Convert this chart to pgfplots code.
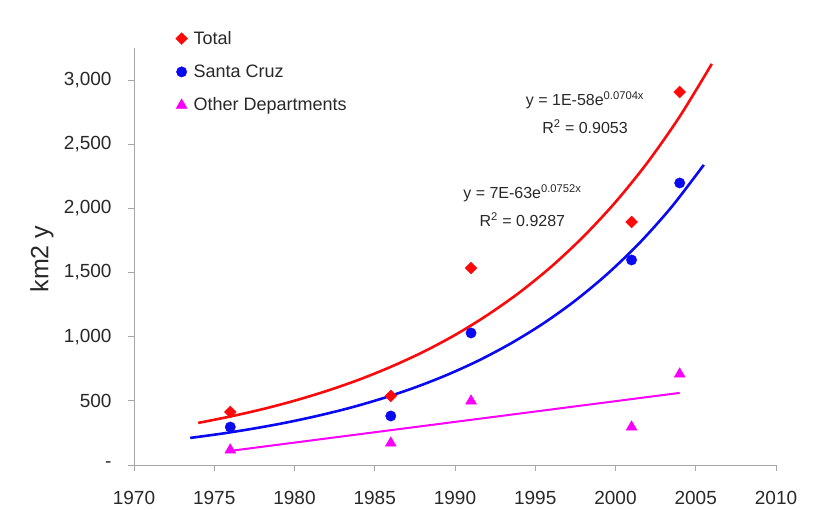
\documentclass[border=0pt]{standalone}
\usepackage{fontspec}
\setmainfont{Liberation Sans}
\usepackage{pgfplots}
\pgfplotsset{compat=1.18}
\definecolor{tred}{RGB}{250,10,10}
\definecolor{tblue}{RGB}{10,10,240}
\definecolor{tmag}{RGB}{250,0,250}
\definecolor{txt}{RGB}{40,40,40}
\begin{document}
\begin{tikzpicture}
\path[use as bounding box] (0,0) rectangle (815bp,510bp);
\begin{axis}[
  at={(134bp,45bp)}, anchor=south west,
  scale only axis, width=642bp, height=417bp,
  xmin=1970, xmax=2010, ymin=0, ymax=3250,
  axis lines*=left,
  axis line style={gray!70, line width=0.8bp},
  tick style={gray!70, line width=0.8bp},
  tick align=outside, major tick length=6bp,
  xtick={1970,1975,...,2010},
  xticklabels={1970,1975,1980,1985,1990,1995,2000,2005,2010},
  ytick={0,500,1000,1500,2000,2500,3000},
  yticklabels={-,500,{1,000},{1,500},{2,000},{2,500},{3,000}},
  ticklabel style={font=\fontsize{19bp}{22bp}\selectfont, text=txt},
  xticklabel style={yshift=-17bp},
  yticklabel style={xshift=-13bp},
  legend style={draw=none, fill=none, at={(0.06,1.05)}, anchor=north west,
    font=\fontsize{18bp}{21bp}\selectfont, text=txt, row sep=15bp,
    /tikz/every odd column/.append style={column sep=4bp}},
  legend cell align=left,
]
% trend lines
\addplot[tred, line width=2.6bp, smooth, forget plot] coordinates {
(1974,328) (1976,378) (1978,435) (1980,501) (1982,577) (1984,664) (1986,765)
(1988,880) (1990,1013) (1992,1167) (1994,1343) (1996,1546) (1998,1780)
(2000,2049) (2002,2359) (2004,2716) (2006,3126)};
\addplot[tblue, line width=2.6bp, smooth, forget plot] coordinates {
(1973.5,211) (1975.5,245) (1977.5,285) (1979.5,331) (1981.5,385) (1983.5,447)
(1985.5,520) (1987.5,604) (1989.5,702) (1991.5,816) (1993.5,949) (1995.5,1103)
(1997.5,1282) (1999.5,1490) (2001.5,1731) (2003.5,2012) (2005.5,2339)};
\addplot[tmag, line width=2bp, forget plot] coordinates {(1976,110) (2004,562)};
% data
\addplot[only marks, mark=square*, mark size=4.2bp, mark options={rotate=45}, color=tred] coordinates {
(1976,413) (1986,538) (1991,1535) (2001,1894) (2004,2907)};
\addlegendentry{Total}
\addplot[only marks, mark=*, mark size=5.2bp, color=tblue] coordinates {
(1976,296) (1986,382) (1991,1029) (2001,1598) (2004,2198)};
\addlegendentry{Santa Cruz}
\addplot[only marks, mark=triangle*, mark size=6.3bp, color=tmag] coordinates {
(1976,117) (1986,171) (1991,499) (2001,296) (2004,709)};
\addlegendentry{Other Departments}
\node[font=\fontsize{16bp}{19bp}\selectfont, text=txt] at (axis cs:1998.1,2845) {y = 1E-58e\textsuperscript{0.0704x}};
\node[font=\fontsize{16bp}{19bp}\selectfont, text=txt] at (axis cs:1998.1,2634) {R\textsuperscript{2} = 0.9053};
\node[font=\fontsize{16bp}{19bp}\selectfont, text=txt] at (axis cs:1994.2,2120) {y = 7E-63e\textsuperscript{0.0752x}};
\node[font=\fontsize{16bp}{19bp}\selectfont, text=txt] at (axis cs:1994.2,1910) {R\textsuperscript{2} = 0.9287};
\end{axis}
\node[rotate=90, font=\fontsize{25bp}{28bp}\selectfont, text=txt] at (42bp,251bp) {km2 y};
\end{tikzpicture}
\end{document}
